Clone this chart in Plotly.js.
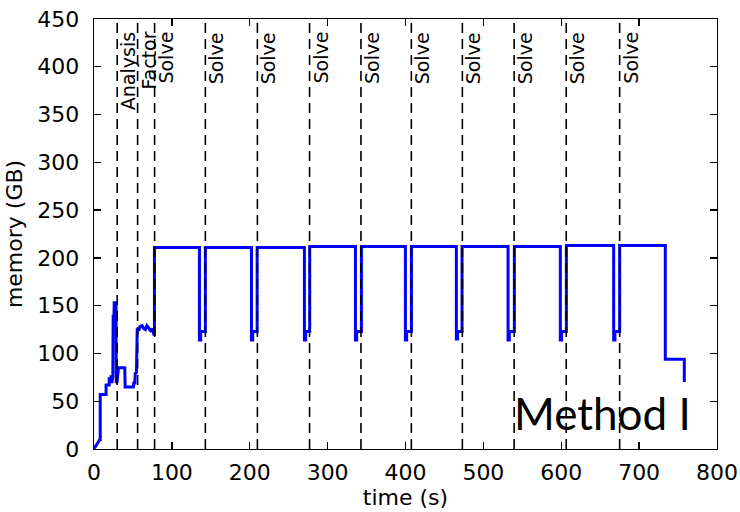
<!DOCTYPE html>
<html>
<head>
<meta charset="utf-8">
<script src="https://cdn.plot.ly/plotly-3.0.1.min.js"></script>
<style>html,body{margin:0;padding:0;background:#fff;}#chart{width:740px;height:512px;}</style>
</head>
<body>
<div id="chart"></div>
<script>
// memory trace (time in s, memory in GB)
var timeS = [0, 7.5, 8, 8, 15.5, 15.5, 19.5, 19.5, 21, 22, 23, 24.2, 24.6, 25.6, 26, 28.3, 28.6, 29.5, 31.5, 39.5, 40, 50.5, 51, 52.5, 53, 54.5, 55.5, 57.5, 59, 61.8, 64, 66, 68, 70, 72.5, 74.6, 76.8, 77.6,
  77.6, 135.4, 135.4, 137, 137, 143, 143, 202.2, 202.2, 203.8, 203.8, 209.5, 209.5, 270.2, 270.2, 271.8, 271.8, 277, 277,
  335.7, 335.7, 337.3, 337.3, 343.4, 343.4, 399.9, 399.9, 401.5, 401.5, 407.6, 407.6, 465.3, 465.3, 466.9, 466.9, 472.6, 472.6,
  531.7, 531.7, 533.3, 533.3, 539.8, 539.8, 598.8, 598.8, 600.4, 600.4, 606.6, 606.6, 667.3, 667.3, 668.9, 668.9, 675, 675,
  733.6, 733.6, 758, 758];
var memGB = [0, 10, 10, 57, 57, 67, 67, 75, 70, 77, 69, 76, 139, 139, 153, 153, 69, 70, 85, 85, 65, 65, 69, 69, 79, 80, 126, 124, 128, 129, 126, 125, 129, 127, 124, 126, 120, 120,
  211, 211, 114, 114, 123, 123, 211, 211, 114, 114, 123, 123, 211, 211, 114, 114, 123, 123, 212,
  212, 114, 114, 123, 123, 212, 212, 114, 114, 123, 123, 212, 212, 115, 115, 123, 123, 212,
  212, 114, 114, 123, 123, 212, 212, 114, 114, 123, 123, 213, 213, 114, 114, 123, 123, 213,
  213, 94, 94, 70];

// phase markers
var phaseTimes = [29.8, 56, 77.8, 143, 209.8, 276.8, 342.8, 407.5, 473, 539.5, 606.4, 675];
var phaseLabels = ["Analysis", "Factor", "Solve", "Solve", "Solve", "Solve", "Solve", "Solve", "Solve", "Solve", "Solve", "Solve"];

var xTicks = [0, 100, 200, 300, 400, 500, 600, 700, 800];
var yTicks = [0, 50, 100, 150, 200, 250, 300, 350, 400, 450];
var methodLabel = "Method I";

var font = "DejaVu Sans, sans-serif";

var trace = {
  x: timeS, y: memGB, type: "scatter", mode: "lines",
  line: {color: "#0000ff", width: 3, simplify: false},
  hoverinfo: "skip"
};

var shapes = phaseTimes.map(function (t) {
  return {type: "line", xref: "x", yref: "paper", x0: t, x1: t, y0: 0, y1: 1,
          line: {color: "#000", width: 1.6, dash: "10px,6px"}, layer: "above"};
});

var annotations = phaseTimes.map(function (t, i) {
  return {x: t, y: 438.5, xref: "x", yref: "y", text: phaseLabels[i], showarrow: false,
          textangle: -90, xanchor: "left", yanchor: "top", xshift: -2,
          font: {family: font, size: 19, color: "#000"}};
});
annotations.push({x: 0.962, y: 0.018, xref: "paper", yref: "paper", text: methodLabel, showarrow: false,
  xanchor: "right", yanchor: "bottom", font: {family: "Lato, sans-serif", size: 44, color: "#000"}});

var axisCommon = {
  showgrid: false, zeroline: false, showline: true, linecolor: "#000", linewidth: 1.3,
  mirror: "allticks", ticks: "inside", ticklen: 7, tickwidth: 1.3, tickcolor: "#000",
  tickfont: {family: font, size: 22, color: "#000"}, fixedrange: true
};

var layout = {
  width: 740, height: 512,
  margin: {l: 94, r: 23, t: 19, b: 63},
  paper_bgcolor: "#fff", plot_bgcolor: "#fff",
  showlegend: false,
  xaxis: Object.assign({}, axisCommon, {
    range: [0, 800], tickvals: xTicks, ticktext: xTicks.map(String), ticklabelstandoff: 3,
    title: {text: "time (s)", font: {family: font, size: 22, color: "#000"}, standoff: 2}
  }),
  yaxis: Object.assign({}, axisCommon, {
    range: [0, 450], tickvals: yTicks, ticktext: yTicks.map(String), ticklabelstandoff: 9,
    title: {text: "memory (GB)", font: {family: font, size: 22, color: "#000"}, standoff: 8}
  }),
  shapes: shapes,
  annotations: annotations
};

Plotly.newPlot("chart", [trace], layout, {displayModeBar: false, staticPlot: true});
</script>
</body>
</html>
